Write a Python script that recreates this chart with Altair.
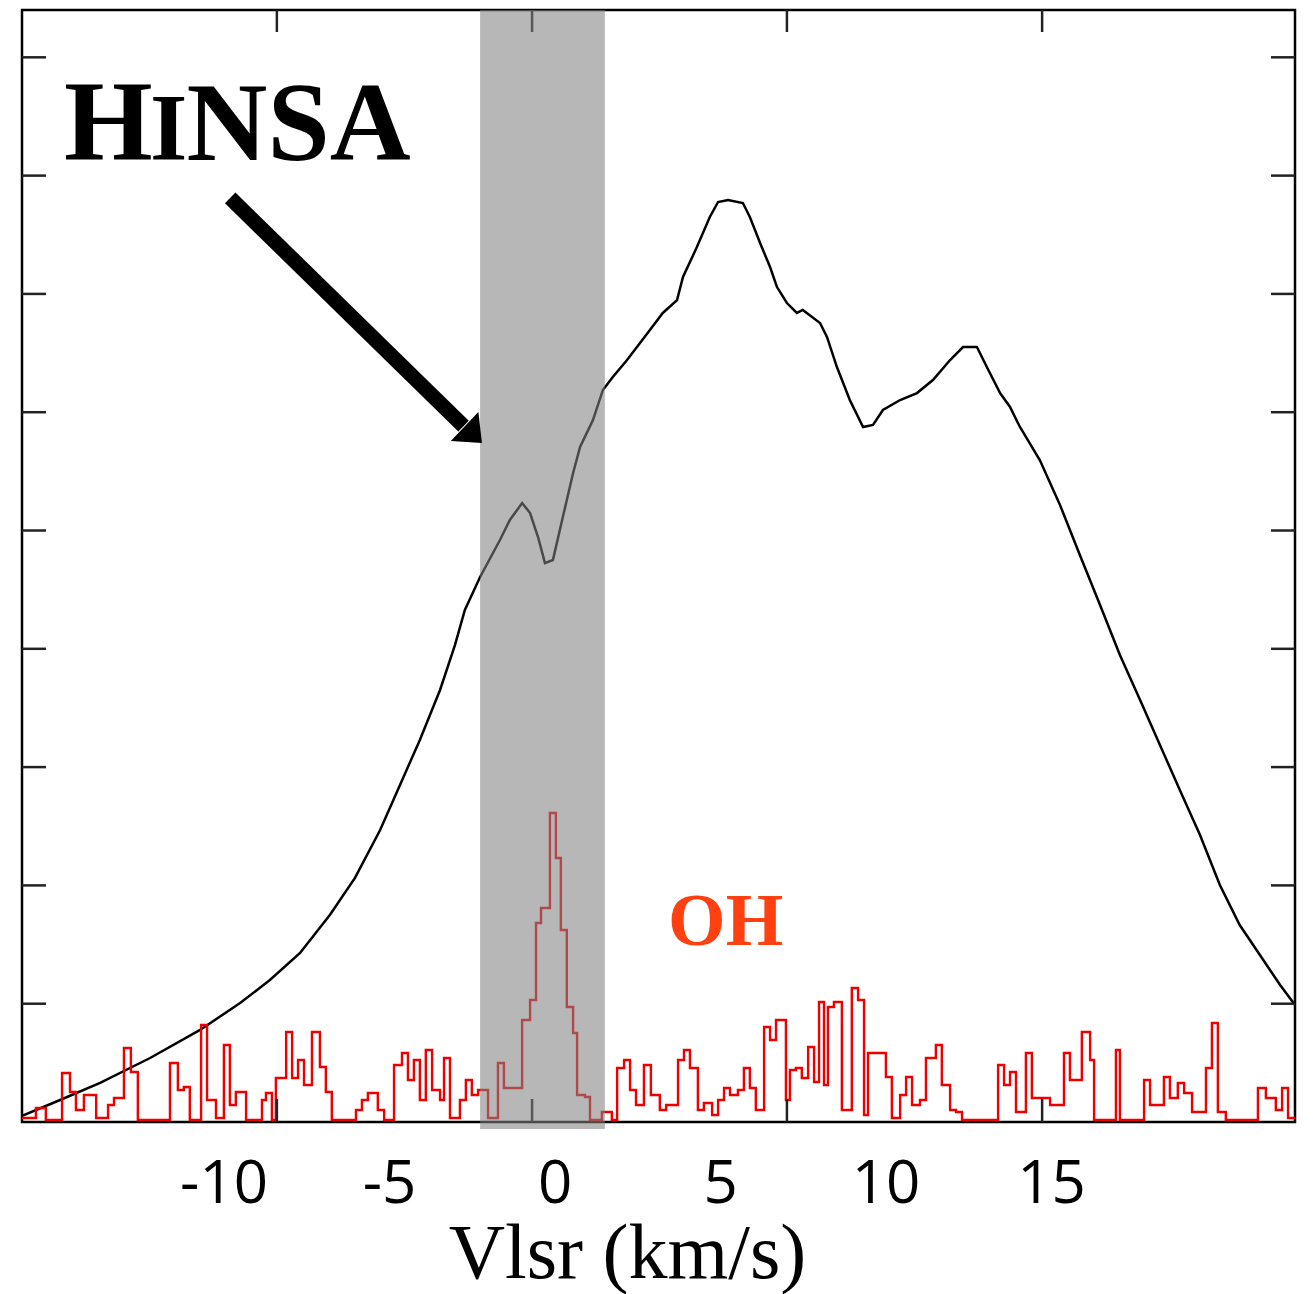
import altair as alt
import pandas as pd

# HI emission spectrum (black): velocity (km/s) and brightness (arbitrary, ticks every 10)
hi_v = [-16.09, -14.94, -13.73, -12.22, -10.71, -9.50, -8.60, -7.69, -6.79, -6.03,
        -5.27, -4.67, -4.07, -3.46, -3.01, -2.71, -2.25, -1.65, -1.35, -0.98,
        -0.74, -0.50, -0.29, -0.05, 0.25, 0.56, 0.77, 1.16, 1.46, 1.76,
        2.19, 2.88, 3.27, 3.70, 3.88, 4.30, 4.69, 4.94, 5.24, 5.69,
        5.90, 6.21, 6.51, 6.72, 7.02, 7.32, 7.50, 8.02, 8.23, 8.53,
        8.92, 9.32, 9.62, 9.92, 10.44, 10.95, 11.43, 11.95, 12.34, 12.76,
        13.06, 13.46, 13.76, 14.06, 14.66, 15.27, 15.87, 16.48, 17.08, 17.69,
        18.29, 18.89, 19.50, 20.10, 20.70, 21.31, 21.92, 22.37]
hi_t = [0.51, 1.86, 3.30, 5.41, 7.78, 10.06, 12.00, 14.29, 17.50, 20.63,
        24.68, 28.49, 32.29, 36.52, 40.32, 43.28, 46.07, 49.20, 50.89, 52.32,
        51.48, 49.45, 47.25, 47.51, 51.14, 54.86, 57.06, 59.34, 61.88, 62.98,
        64.41, 66.95, 68.39, 69.48, 71.43, 73.96, 76.50, 77.77, 77.94, 77.68,
        76.50, 74.30, 72.27, 70.58, 69.23, 68.39, 68.64, 67.54, 66.36, 63.82,
        61.03, 58.75, 58.92, 60.19, 61.03, 61.62, 62.72, 64.41, 65.51, 65.51,
        63.82, 61.62, 60.44, 58.75, 55.96, 52.16, 47.93, 43.70, 39.48, 35.67,
        31.87, 28.06, 24.26, 20.03, 16.65, 14.12, 11.58, 9.89]

# OH spectrum (red), step edges
oh_v = [-16.09, -15.67, -15.37, -14.88, -14.64, -14.46, -14.22, -13.85, -13.49, -13.31,
        -13.01, -12.80, -12.59, -11.62, -11.38, -11.20, -11.02, -10.68, -10.50, -10.23,
        -9.99, -9.81, -9.63, -9.32, -8.84, -8.72, -8.54, -8.42, -8.11, -7.93,
        -7.75, -7.57, -7.33, -7.09, -6.91, -6.73, -6.00, -5.82, -5.64, -5.34,
        -5.15, -4.85, -4.61, -4.43, -4.25, -4.07, -3.89, -3.70, -3.46, -3.34,
        -3.16, -2.86, -2.68, -2.50, -2.31, -2.01, -1.71, -1.53, -1.23, -0.98,
        -0.74, -0.56, -0.41, -0.26, -0.14, 0.04, 0.19, 0.37, 0.56, 0.68,
        0.92, 1.07, 1.43, 1.73, 1.89, 2.10, 2.28, 2.46, 2.70, 2.91,
        3.18, 3.37, 3.73, 3.91, 4.09, 4.33, 4.51, 4.76, 4.94, 5.12,
        5.30, 5.54, 5.72, 5.90, 6.08, 6.33, 6.51, 6.69, 6.99, 7.11,
        7.29, 7.47, 7.66, 7.84, 7.99, 8.14, 8.26, 8.44, 8.68, 8.98,
        9.17, 9.35, 9.47, 9.83, 10.01, 10.19, 10.44, 10.62, 10.80, 11.04,
        11.22, 11.52, 11.70, 11.95, 12.13, 12.31, 13.40, 13.58, 13.76, 13.94,
        14.24, 14.42, 14.66, 14.97, 15.39, 15.57, 15.93, 16.18, 16.30, 16.96,
        17.08, 17.81, 17.99, 18.41, 18.59, 18.83, 19.02, 19.26, 19.68, 19.86,
        20.04, 20.28, 21.25, 21.49, 21.79, 21.98, 22.16, 22.37]
oh_t = [0.34, 1.18, 0.17, 4.14, 2.54, 1.01, 2.28, 0.34, 1.44, 2.03,
        6.26, 4.23, 0.17, 4.99, 2.70, 2.96, 0.17, 8.20, 1.86, 0.34,
        6.51, 1.44, 2.54, 0.17, 1.86, 2.45, 0.17, 3.72, 7.61, 3.72,
        5.24, 3.13, 7.61, 4.65, 2.54, 0.17, 1.01, 1.86, 2.45, 1.01,
        0.17, 4.82, 5.83, 3.55, 5.24, 1.86, 6.09, 2.70, 1.86, 5.41,
        0.34, 1.86, 3.55, 2.28, 2.70, 0.34, 4.99, 2.87, 2.87, 8.62,
        10.31, 16.82, 18.09, 18.09, 26.12, 22.32, 16.23, 9.72, 7.52, 2.28,
        2.11, 0.17, 0.85, 0.17, 4.56, 5.24, 2.70, 1.44, 4.82, 2.28,
        1.01, 1.44, 5.24, 6.09, 4.56, 1.01, 1.61, 0.59, 1.86, 2.87,
        2.28, 2.70, 4.56, 2.87, 1.01, 8.03, 6.93, 8.62, 1.86, 4.40,
        4.56, 3.72, 6.34, 3.38, 10.14, 3.13, 9.72, 10.14, 1.01, 11.33,
        10.31, 0.59, 5.83, 5.83, 3.80, 0.34, 2.28, 3.80, 1.44, 1.86,
        5.41, 6.51, 3.13, 1.01, 0.85, 0.17, 4.82, 3.13, 4.23, 0.85,
        5.83, 2.03, 2.03, 1.44, 5.83, 3.55, 7.61, 5.24, 0.17, 6.09,
        0.17, 3.55, 1.44, 3.80, 2.03, 3.30, 2.45, 0.85, 4.56, 8.37,
        0.85, 0.17, 2.87, 2.03, 1.01, 2.87, 0.34, 0.34]

x_labels = [-10, -5, 0, 5, 10, 15]
x_ticks = [-8.39, -0.68, 7.02, 14.73]
y_ticks = [10, 20, 30, 40, 50, 60, 70, 80, 90]
band_v = [-2.25]
band_v2 = [1.52]
arrow_from = [-9.80, 78.11]
arrow_to = [-2.75, 58.83]
arrow_head = [-2.456, 58.10]
text_items = ["H", "I", "NSA", "OH"]
text_v = [-14.82, -12.22, -11.12, 3.43]
text_t = [81.32, 81.32, 81.32, 14.96]

W, H = 1273, 1112
xs = alt.Scale(domain=[-16.09, 22.37], nice=False, zero=False)
ys = alt.Scale(domain=[0, 94.0], nice=False, zero=False)

hi_df = pd.DataFrame({"v": hi_v, "t": hi_t})
oh_df = pd.DataFrame({"v": oh_v, "t": oh_t})
xt_df = pd.DataFrame({"v": x_ticks})
yt_df = pd.DataFrame({"t": y_ticks})
band_df = pd.DataFrame({"v": band_v, "v2": band_v2})
arrow_df = pd.DataFrame({"v": [arrow_from[0]], "t": [arrow_from[1]],
                         "v2": [arrow_to[0]], "t2": [arrow_to[1]]})
head_df = pd.DataFrame({"v": [arrow_head[0]], "t": [arrow_head[1]]})

xaxis = alt.Axis(values=x_labels, ticks=False, tickSize=0, domain=False, grid=False,
                 labelPadding=33, labelFont="Open Sans", labelFontSize=60,
                 labelExpr="toString(datum.value)",
                 labelColor="black", labelFlush=False, labelOverlap=False,
                 title="Vlsr (km/s)", titleFont="Liberation Serif", titleFontSize=78,
                 titleFontWeight="normal", titleColor="black", titleX=605, titleY=155,
                 titleBaseline="alphabetic", titleAlign="center")

hi = alt.Chart(hi_df).mark_line(color="black", strokeWidth=2.5).encode(
    x=alt.X("v:Q", scale=xs, axis=xaxis),
    y=alt.Y("t:Q", scale=ys, axis=None),
)

oh = alt.Chart(oh_df).mark_line(color="#ee0000", strokeWidth=2.4, interpolate="step-after").encode(
    x=alt.X("v:Q", scale=xs),
    y=alt.Y("t:Q", scale=ys, axis=None),
)

tick_style = dict(color="#222222", strokeWidth=2.5)
top_ticks = alt.Chart(xt_df).mark_rule(**tick_style).encode(
    x=alt.X("v:Q", scale=xs), y=alt.value(0), y2=alt.value(22))
bot_ticks = alt.Chart(xt_df).mark_rule(**tick_style).encode(
    x=alt.X("v:Q", scale=xs), y=alt.value(H), y2=alt.value(H - 23))
left_ticks = alt.Chart(yt_df).mark_rule(**tick_style).encode(
    y=alt.Y("t:Q", scale=ys, axis=None), x=alt.value(0), x2=alt.value(24))
right_ticks = alt.Chart(yt_df).mark_rule(**tick_style).encode(
    y=alt.Y("t:Q", scale=ys, axis=None), x=alt.value(W - 24), x2=alt.value(W))

band = alt.Chart(band_df).mark_rect(color="#808080", opacity=0.57).encode(
    x=alt.X("v:Q", scale=xs), x2="v2:Q", y=alt.value(0), y2=alt.value(H + 7))

shaft = alt.Chart(arrow_df).mark_rule(color="black", strokeWidth=15, strokeCap="butt").encode(
    x=alt.X("v:Q", scale=xs), x2="v2:Q",
    y=alt.Y("t:Q", scale=ys, axis=None), y2="t2:Q")

head = alt.Chart(head_df).mark_point(
    shape="M -0.6 -1 L 0.6 0 L -0.6 1 Z", size=1600, angle=43.6,
    filled=True, color="black", opacity=1, strokeWidth=0).encode(
    x=alt.X("v:Q", scale=xs), y=alt.Y("t:Q", scale=ys, axis=None))

def label(i, size, color):
    df = pd.DataFrame({"v": [text_v[i]], "t": [text_t[i]], "s": [text_items[i]]})
    return alt.Chart(df).mark_text(align="left", baseline="alphabetic",
                                   font="Liberation Serif", fontWeight="bold",
                                   fontSize=size, color=color).encode(
        x=alt.X("v:Q", scale=xs), y=alt.Y("t:Q", scale=ys, axis=None), text="s:N")

texts = label(0, 114, "black") + label(1, 96, "black") + label(2, 112, "black") + label(3, 74, "#ff4010")

chart = alt.layer(
    hi, oh, top_ticks, bot_ticks, left_ticks, right_ticks, band, shaft, head, texts
).properties(
    width=W, height=H,
    padding={"left": 22, "top": 10, "right": 18, "bottom": 172},
    autosize=alt.AutoSizeParams(type="none"),
    background="white",
).configure_view(stroke="black", strokeWidth=2.5)

chart.save("out.html", embed_options={"renderer": "svg", "actions": False})
